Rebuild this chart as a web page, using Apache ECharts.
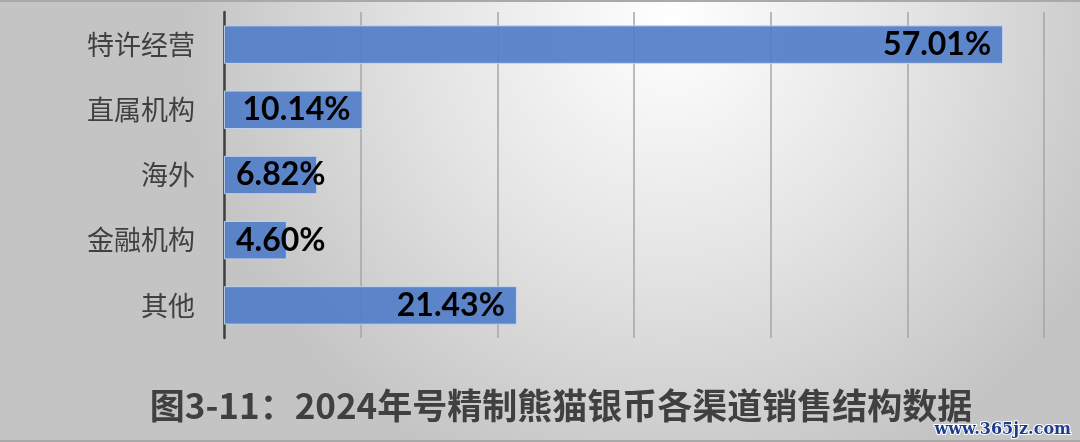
<!DOCTYPE html>
<html>
<head>
<meta charset="utf-8">
<script src="https://cdn.jsdelivr.net/npm/echarts@6/dist/echarts.min.js"></script>
<style>
html,body{margin:0;padding:0;}
#chart{width:1080px;height:442px;}
</style>
</head>
<body>
<div id="chart"></div>
<script>
const categories = ['特许经营', '直属机构', '海外', '金融机构', '其他'];
const shares = [57.01, 10.14, 6.82, 4.60, 21.43];
const axisTicks = [0, 10, 20, 30, 40, 50, 60];
const titleText = '图3-11：2024年号精制熊猫银币各渠道销售结构数据';
const watermark = 'www.365jz.com';

const chart = echarts.init(document.getElementById('chart'));

const barData = shares.map(v => ({
  value: v,
  label: { position: v < 8 ? 'insideLeft' : 'insideRight' }
}));

chart.setOption({
  backgroundColor: new echarts.graphic.RadialGradient(0.62, 0.05, 1.1, [
    { offset: 0, color: '#ffffff' },
    { offset: 0.5, color: '#e4e4e4' },
    { offset: 1, color: '#c4c4c4' }
  ]),
  animation: false,
  title: {
    text: titleText,
    left: 556,
    textAlign: 'center',
    top: 383,
    textStyle: {
      fontFamily: '"Noto Sans CJK SC", sans-serif',
      fontSize: 35,
      fontWeight: 'bold',
      color: '#404040'
    }
  },
  graphic: [
    { type: 'rect', left: 0, top: 0, shape: { width: 1080, height: 2 }, style: { fill: '#a9a9a9' } },
    { type: 'rect', left: 0, top: 440, shape: { width: 1080, height: 2 }, style: { fill: '#a9a9a9' } },
    {
      type: 'text', right: 8, top: 421,
      style: {
        text: watermark,
        font: 'bold 16px "DejaVu Serif", serif',
        fill: '#1f3c8c',
        stroke: '#ffffff',
        lineWidth: 2
      }
    }
  ],
  grid: { left: 224, right: 36, top: 12, bottom: 104, containLabel: false },
  xAxis: {
    type: 'value',
    min: axisTicks[0],
    max: axisTicks[axisTicks.length - 1],
    interval: axisTicks[1] - axisTicks[0],
    axisLine: { show: false },
    axisTick: { show: false },
    axisLabel: { show: false },
    splitLine: { show: true, lineStyle: { color: '#a6a6a6', width: 1.5 } }
  },
  yAxis: {
    type: 'category',
    data: categories,
    inverse: true,
    axisLine: { show: true, onZero: false, lineStyle: { color: '#404040', width: 2.5 } },
    axisTick: { show: false },
    axisLabel: {
      margin: 29,
      fontFamily: '"Noto Sans CJK SC", sans-serif',
      fontSize: 27,
      color: '#404040'
    }
  },
  series: [{
    type: 'bar',
    data: barData,
    barCategoryGap: '41%',
    itemStyle: {
      color: 'rgba(83,126,200,0.93)',
      borderColor: 'rgba(200,215,240,0.9)',
      borderWidth: 1
    },
    label: {
      show: true,
      distance: 12,
      formatter: p => p.value.toFixed(2) + '%',
      fontFamily: 'Lato, "Open Sans", sans-serif',
      fontWeight: 'bold',
      fontSize: 32,
      color: '#000000'
    }
  }]
});
</script>
</body>
</html>
